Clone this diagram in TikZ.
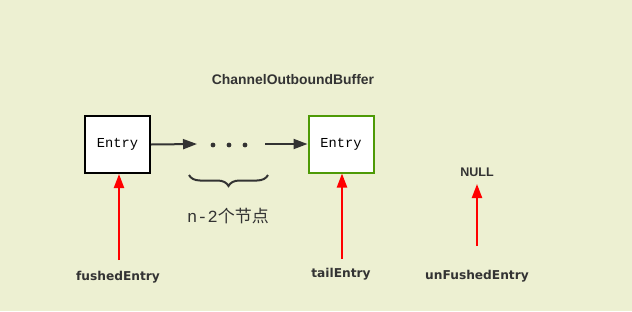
\documentclass[tikz,border=0pt]{standalone}
\usepackage{fontspec}
\usetikzlibrary{arrows.meta,decorations.pathreplacing}
\newfontfamily\entryfont{Liberation Mono}
\newfontfamily\headfont{Liberation Sans}
\newfontfamily\ptrfont{DejaVu Sans}
\newfontfamily\cjkfont{Noto Sans CJK SC}
\definecolor{paper}{RGB}{237,240,210}
\definecolor{tailgreen}{RGB}{78,154,6}
\definecolor{linkgray}{RGB}{51,51,51}
\begin{document}
\begin{tikzpicture}[x=1pt, y=-1pt,
  %% Entry boxes of the list
  entrybox/.style={draw, line width=2pt, fill=white,
                   minimum width=65pt, minimum height=57pt,
                   font=\entryfont\fontsize{13.7}{15}\selectfont},
  %% Pointer labels under the list
  ptrlabel/.style={font=\ptrfont\bfseries\fontsize{12.2}{14}\selectfont, text=linkgray},
  %% Link arrow between entries
  link/.style={-{Triangle[length=14pt, width=10pt]}, line width=2pt, linkgray},
  %% Red pointer arrow
  ptr/.style={-{Triangle[length=14pt, width=10pt]}, line width=2.2pt, red}
]

%% ── Background ──────────────────────────────────────────────────────────
\fill[paper] (0,0) rectangle (632,311);
\useasboundingbox (0,0) rectangle (632,311);

%% ── Title ───────────────────────────────────────────────────────────────
\node[font=\headfont\bfseries\fontsize{13.9}{16}\selectfont, text=linkgray]
  (title) at (293,80) {ChannelOutboundBuffer};

%% ── Entries and the links between them ─────────────────────────────────
\node[entrybox]                   (first) at (117.5,144.5) {Entry};
\node[entrybox, draw=tailgreen]   (tail)  at (341,144)     {Entry};
\coordinate (dots) at (229,145);
\foreach \dx in {-16,0,16}
  \fill[linkgray] ([xshift=\dx pt]dots) circle (2.4pt);

\draw[link] (first.east) -- (197,144);
\draw[link] (265,144) -- (tail.west);

%% n-2 nodes in between
\draw[decorate, decoration={brace, amplitude=11pt, mirror}, line width=2pt, linkgray]
  (189,175) -- (268,175);
\node[font=\cjkfont\fontsize{17}{19}\selectfont, text=linkgray]
  (count) at (228,216) {{\entryfont n-2}个节点};

%% ── Pointers ────────────────────────────────────────────────────────────
\node[ptrlabel] (fushed)   at (118,277) {fushedEntry};
\node[ptrlabel] (tailptr)  at (341,274) {tailEntry};
\node[ptrlabel] (unfushed) at (477,276) {unFushedEntry};
\node[font=\headfont\bfseries\fontsize{12.5}{14}\selectfont, text=linkgray]
  (null) at (477,172) {NULL};

\coordinate (fushedtail)   at (119,260);
\coordinate (tailptrtail)  at (342,259);
\coordinate (unfushedtail) at (477,246);

\draw[ptr] (fushedtail)   -- (first.south -| fushedtail);
\draw[ptr] (tailptrtail)  -- (tail.south -| tailptrtail);
\draw[ptr] (unfushedtail) -- (477,184);

\end{tikzpicture}
\end{document}
